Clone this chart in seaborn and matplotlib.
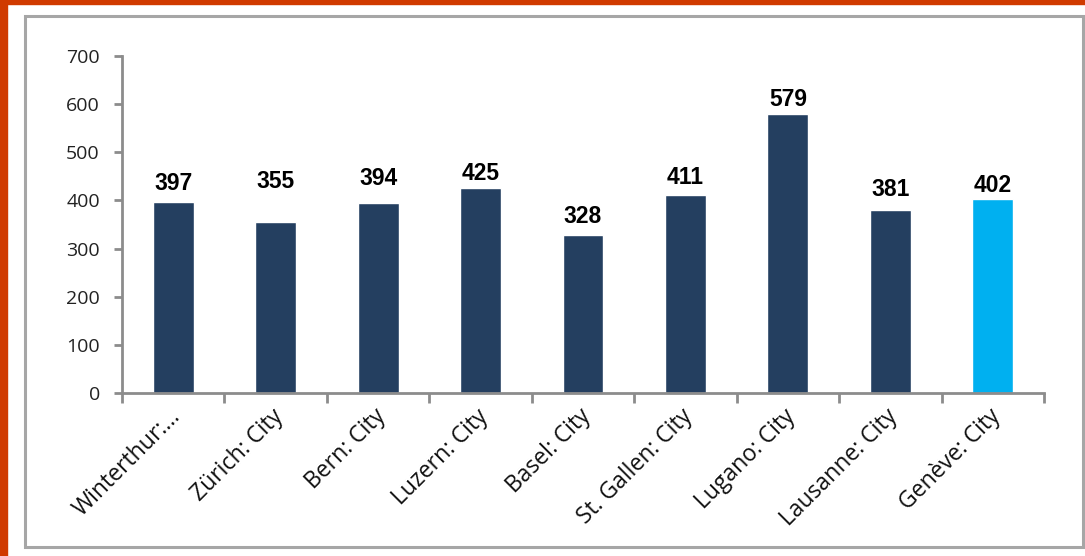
import matplotlib
matplotlib.use("Agg")
import matplotlib.pyplot as plt
import seaborn as sns
import pandas as pd
from matplotlib.patches import Rectangle
from matplotlib.transforms import offset_copy

# ---- data ----
categories = ["Winterthur:…", "Zürich: City", "Bern: City", "Luzern: City", "Basel: City",
              "St. Gallen: City", "Lugano: City", "Lausanne: City", "Genève: City"]
values = [397, 355, 394, 425, 328, 411, 579, 381, 402]
y_ticks = [0, 100, 200, 300, 400, 500, 600, 700]

# ---- style ----
navy = "#243F60"
cyan = "#00B0F0"
highlight = "Genève: City"
label_gap_px = [12, 34, 18, 8, 12, 11, 8, 14, 7]

sns.set_theme(style="white")
plt.rcParams["font.family"] = ["Open Sans", "DejaVu Sans"]

DPI = 100
fig = plt.figure(figsize=(10.85, 5.56), dpi=DPI)
W, H = 1085, 556

# decorations: orange frame and grey chart border
fig.patches.append(Rectangle((0, 1 - 4 / H), 1, 4 / H, transform=fig.transFigure,
                             color="#D03A00", zorder=0))
fig.patches.append(Rectangle((0, 0), 7 / W, 1, transform=fig.transFigure,
                             color="#D03A00", zorder=0))
fig.patches.append(Rectangle((25 / W, 1 - 547 / H), (1083 - 25) / W, (547 - 16) / H,
                             transform=fig.transFigure, fill=False, edgecolor="#A6A6A6",
                             linewidth=2.2, zorder=1))

ax = fig.add_axes([122 / W, 1 - 393 / H, (1044 - 122) / W, (393 - 56) / H])

df = pd.DataFrame({"cat": categories, "val": values})
palette = {c: (cyan if c == highlight else navy) for c in categories}
sns.barplot(data=df, x="cat", y="val", hue="cat", palette=palette, legend=False,
            width=0.4, saturation=1, ax=ax, order=categories)

ax.set_xlim(-0.5, len(categories) - 0.5)
ax.set_ylim(0, 700)
ax.set_yticks(y_ticks)
ax.set_xlabel("")
ax.set_ylabel("")

# spines
for s in ["top", "right"]:
    ax.spines[s].set_visible(False)
for s in ["left", "bottom"]:
    ax.spines[s].set_color("#8C8C8C")
    ax.spines[s].set_linewidth(2)

# y ticks
ax.tick_params(axis="y", which="major", direction="out", length=6, width=2,
               color="#8C8C8C", labelsize=14, labelcolor="#222222", pad=10, left=True)

# x ticks: labels at centers (no tick), tick marks at boundaries
ax.set_xticks(range(len(categories)))
ax.set_xticklabels(categories)
ax.set_xticks([i - 0.5 for i in range(len(categories) + 1)], minor=True)
ax.tick_params(axis="x", which="major", length=0, labelsize=16.5, labelcolor="#111111", pad=0)
ax.tick_params(axis="x", which="minor", direction="out", length=7, width=2,
               color="#8C8C8C", bottom=True)
for lab in ax.get_xticklabels():
    lab.set_rotation(45)
    lab.set_ha("right")
    lab.set_va("center")
    lab.set_rotation_mode("anchor")
    lab.set_transform(offset_copy(lab.get_transform(), fig=fig, x=4, y=-20, units="dots"))

# value labels
for i, v in enumerate(values):
    ax.annotate(f"{v}", xy=(i, v), xytext=(0, label_gap_px[i] * 72 / DPI),
                textcoords="offset points", ha="center", va="baseline",
                fontsize=16.5, fontweight="bold", color="#000000",
                family=["Liberation Sans", "DejaVu Sans"])

fig.savefig("out.png", dpi=DPI)
